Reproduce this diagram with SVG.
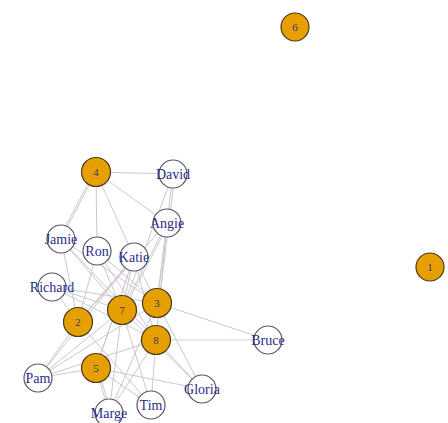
<svg xmlns="http://www.w3.org/2000/svg" width="448" height="423" viewBox="0 0 448 423">
<style>
.e{stroke:#c9c9cf;stroke-width:1;fill:none}
.p{stroke:#dcc3dc}
.g{stroke:#c8d8c8}
.grp circle{fill:#E69F00;stroke:#4a3a20;stroke-width:1.2}
.grp text{font-family:"Liberation Serif",serif;font-size:11px;fill:#4a2f63;text-anchor:middle;dominant-baseline:central}
.per circle{fill:#ffffff;stroke:#555566;stroke-width:1.2}
.per text{font-family:"Liberation Serif",serif;font-size:14px;fill:#2b2b8c;text-anchor:middle;dominant-baseline:central}
</style>
<rect width="448" height="423" fill="#ffffff"/>
<g id="edges">
<line class="e" x1="96" y1="172" x2="173" y2="174"/>
<line class="e" x1="96" y1="172" x2="167" y2="223"/>
<line class="e" x1="96" y1="172" x2="61" y2="239"/>
<line class="e" x1="94" y1="172" x2="59" y2="239"/>
<line class="e" x1="96" y1="172" x2="97" y2="251"/>
<line class="e p" x1="96" y1="172" x2="134" y2="257"/>
<line class="e" x1="173" y1="174" x2="157" y2="303"/>
<line class="e" x1="175" y1="174" x2="159" y2="303"/>
<line class="e" x1="173" y1="174" x2="122" y2="310"/>
<line class="e" x1="167" y1="223" x2="157" y2="303"/>
<line class="e" x1="167" y1="223" x2="122" y2="310"/>
<line class="e" x1="169" y1="223" x2="124" y2="310"/>
<line class="e" x1="167" y1="223" x2="156" y2="340"/>
<line class="e" x1="167" y1="223" x2="78" y2="322"/>
<line class="e" x1="61" y1="239" x2="122" y2="310"/>
<line class="e p" x1="61" y1="239" x2="157" y2="303"/>
<line class="e" x1="61" y1="239" x2="156" y2="340"/>
<line class="e" x1="61" y1="239" x2="78" y2="322"/>
<line class="e" x1="97" y1="251" x2="122" y2="310"/>
<line class="e p" x1="97" y1="251" x2="156" y2="340"/>
<line class="e" x1="97" y1="251" x2="78" y2="322"/>
<line class="e" x1="97" y1="251" x2="157" y2="303"/>
<line class="e" x1="134" y1="257" x2="122" y2="310"/>
<line class="e" x1="134" y1="257" x2="78" y2="322"/>
<line class="e" x1="134" y1="257" x2="157" y2="303"/>
<line class="e" x1="134" y1="257" x2="156" y2="340"/>
<line class="e p" x1="134" y1="257" x2="96" y2="368"/>
<line class="e" x1="134" y1="257" x2="38" y2="378"/>
<line class="e" x1="52" y1="287" x2="122" y2="310"/>
<line class="e p" x1="52" y1="287" x2="78" y2="322"/>
<line class="e" x1="52" y1="287" x2="157" y2="303"/>
<line class="e" x1="52" y1="287" x2="156" y2="340"/>
<line class="e" x1="157" y1="303" x2="268" y2="340"/>
<line class="e g" x1="156" y1="340" x2="268" y2="340"/>
<line class="e" x1="38" y1="378" x2="96" y2="368"/>
<line class="e" x1="38" y1="378" x2="78" y2="322"/>
<line class="e" x1="38" y1="378" x2="122" y2="310"/>
<line class="e" x1="38" y1="378" x2="157" y2="303"/>
<line class="e" x1="38" y1="378" x2="156" y2="340"/>
<line class="e" x1="202" y1="389" x2="156" y2="340"/>
<line class="e" x1="202" y1="389" x2="122" y2="310"/>
<line class="e" x1="202" y1="389" x2="157" y2="303"/>
<line class="e" x1="202" y1="389" x2="96" y2="368"/>
<line class="e" x1="151" y1="405" x2="156" y2="340"/>
<line class="e" x1="151" y1="405" x2="122" y2="310"/>
<line class="e" x1="151" y1="405" x2="96" y2="368"/>
<line class="e" x1="151" y1="405" x2="78" y2="322"/>
<line class="e" x1="109" y1="413" x2="96" y2="368"/>
<line class="e" x1="111" y1="413" x2="98" y2="368"/>
<line class="e" x1="109" y1="413" x2="122" y2="310"/>
<line class="e" x1="109" y1="413" x2="156" y2="340"/>
<line class="e" x1="109" y1="413" x2="157" y2="303"/>
<line class="e" x1="96" y1="368" x2="134" y2="257"/>
</g>
<g id="n6" class="grp"><circle cx="295" cy="27" r="14"/><text x="295" y="27">6</text></g>
<g id="n1" class="grp"><circle cx="430" cy="267" r="14"/><text x="430" y="267">1</text></g>
<g id="n4" class="grp"><circle cx="96" cy="172" r="14.5"/><text x="96" y="172">4</text></g>
<g id="n3" class="grp"><circle cx="157" cy="303" r="14.5"/><text x="157" y="303">3</text></g>
<g id="n7" class="grp"><circle cx="122" cy="310" r="14.5"/><text x="122" y="310">7</text></g>
<g id="n2" class="grp"><circle cx="78" cy="322" r="14.5"/><text x="78" y="322">2</text></g>
<g id="n8" class="grp"><circle cx="156" cy="340" r="14.5"/><text x="156" y="340">8</text></g>
<g id="n5" class="grp"><circle cx="96" cy="368" r="14.5"/><text x="96" y="368">5</text></g>
<g id="David" class="per"><circle cx="173" cy="174" r="14"/><text x="173" y="174">David</text></g>
<g id="Angie" class="per"><circle cx="167" cy="223" r="14"/><text x="167" y="223">Angie</text></g>
<g id="Jamie" class="per"><circle cx="61" cy="239" r="14"/><text x="61" y="239">Jamie</text></g>
<g id="Ron" class="per"><circle cx="97" cy="251" r="14"/><text x="97" y="251">Ron</text></g>
<g id="Katie" class="per"><circle cx="134" cy="257" r="14"/><text x="134" y="257">Katie</text></g>
<g id="Richard" class="per"><circle cx="52" cy="287" r="14"/><text x="52" y="287">Richard</text></g>
<g id="Bruce" class="per"><circle cx="268" cy="340" r="14"/><text x="268" y="340">Bruce</text></g>
<g id="Pam" class="per"><circle cx="38" cy="378" r="14"/><text x="38" y="378">Pam</text></g>
<g id="Gloria" class="per"><circle cx="202" cy="389" r="14"/><text x="202" y="389">Gloria</text></g>
<g id="Tim" class="per"><circle cx="151" cy="405" r="14"/><text x="151" y="405">Tim</text></g>
<g id="Marge" class="per"><circle cx="109" cy="413" r="14"/><text x="109" y="413">Marge</text></g>
</svg>
